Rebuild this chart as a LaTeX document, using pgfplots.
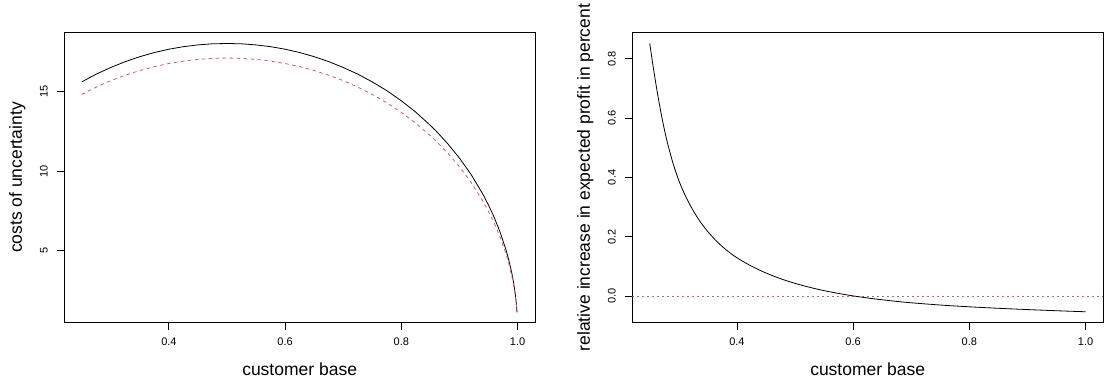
\documentclass[border=0pt]{standalone}
\usepackage{fontspec}
\setmainfont{Liberation Sans}
\usepackage{pgfplots}
\pgfplotsset{compat=1.18}
\definecolor{rred}{HTML}{DF536B}
\begin{document}
\begin{tikzpicture}
\path[use as bounding box] (0,0) rectangle (1110bp,378bp);
\pgfplotsset{rstyle/.style={
  scale only axis, width=470.7bp, height=289.8bp, anchor=south west,
  axis line style={line width=0.8bp, black},
  tick style={line width=0.8bp, black},
  tick align=outside, major tick length=7bp,
  xtick pos=lower, ytick pos=left,
  /pgf/number format/assume math mode=true,
  ticklabel style={font=\fontsize{11bp}{13bp}\selectfont},
  xmin=0.22, xmax=1.03,
  xtick={0.4,0.6,0.8,1.0},
  xticklabel style={/pgf/number format/.cd, fixed, fixed zerofill, precision=1, /tikz/.cd, anchor=north, inner sep=0pt},
  xticklabel shift=8.5bp,
  yticklabel style={rotate=90, anchor=south, inner sep=0pt},
  yticklabel shift=9.3bp,
  label style={font=\fontsize{17.5bp}{21bp}\selectfont},
  xlabel style={at={(axis description cs:0.5,-0.1846)}, anchor=base},
  ylabel style={at={(axis description cs:-0.0899,0.5)}, anchor=base},
  xlabel={customer base},
}}
\begin{axis}[rstyle, at={(64.3bp,55.5bp)},
  ymin=0.464, ymax=18.72, ytick={5,10,15},
  ylabel={costs of uncertainty}]
\addplot[black, line width=0.8bp] coordinates {
(0.25,15.62) (0.275,16.11) (0.30,16.53) (0.325,16.90) (0.35,17.21) (0.375,17.47)
(0.40,17.68) (0.425,17.84) (0.45,17.95) (0.475,18.02) (0.50,18.04) (0.525,18.02)
(0.55,17.95) (0.575,17.84) (0.60,17.68) (0.625,17.47) (0.65,17.21) (0.675,16.90)
(0.70,16.53) (0.725,16.11) (0.75,15.62) (0.775,15.07) (0.80,14.43) (0.825,13.71)
(0.85,12.88) (0.86,12.52) (0.88,11.72) (0.90,10.82) (0.92,9.79) (0.94,8.57)
(0.95,7.86) (0.96,7.07) (0.97,6.15) (0.98,5.05) (0.985,4.39) (0.99,3.59)
(0.993,3.01) (0.996,2.28) (0.998,1.61) (0.999,1.14)};
\addplot[rred, line width=0.8bp, dash pattern=on 3.5bp off 3.5bp] coordinates {
(0.25,14.83) (0.275,15.29) (0.30,15.70) (0.325,16.04) (0.35,16.34) (0.375,16.58)
(0.40,16.78) (0.425,16.93) (0.45,17.04) (0.475,17.10) (0.50,17.125) (0.525,17.10)
(0.55,17.04) (0.575,16.93) (0.60,16.78) (0.625,16.58) (0.65,16.34) (0.675,16.04)
(0.70,15.70) (0.725,15.29) (0.75,14.83) (0.775,14.30) (0.80,13.70) (0.825,13.01)
(0.85,12.23) (0.86,11.88) (0.88,11.13) (0.90,10.28) (0.92,9.29) (0.94,8.13)
(0.95,7.46) (0.96,6.71) (0.97,5.84) (0.98,4.80) (0.985,4.16) (0.99,3.41)
(0.993,2.86) (0.996,2.16) (0.998,1.53) (0.999,1.08)};
\end{axis}
\begin{axis}[rstyle, at={(632.3bp,55.5bp)},
  ymin=-0.0881, ymax=0.887, ytick={0,0.2,0.4,0.6,0.8},
  yticklabel style={/pgf/number format/.cd, fixed, fixed zerofill, precision=1},
  ylabel={relative increase in expected profit in percent}]
\addplot[rred, line width=0.8bp, dash pattern=on 2bp off 3bp] coordinates {(0.22,0) (1.03,0)};
\addplot[black, line width=0.8bp, smooth] coordinates {
(0.25,0.851) (0.255,0.784) (0.26,0.722) (0.265,0.664) (0.27,0.611) (0.275,0.563)
(0.28,0.52) (0.29,0.448) (0.30,0.39) (0.31,0.344) (0.32,0.305) (0.33,0.2715)
(0.34,0.2425) (0.35,0.2175) (0.36,0.1955) (0.37,0.176) (0.38,0.1588) (0.39,0.1435)
(0.40,0.1298) (0.42,0.1068) (0.44,0.0872) (0.46,0.0704) (0.48,0.056) (0.50,0.0436)
(0.525,0.0304) (0.55,0.0191) (0.575,0.0096) (0.60,0.0014) (0.625,-0.0056) (0.65,-0.0117)
(0.675,-0.0171) (0.70,-0.0218) (0.75,-0.0293) (0.80,-0.0353) (0.85,-0.0403)
(0.90,-0.0446) (0.95,-0.0485) (1.0,-0.052)};
\end{axis}
\end{tikzpicture}
\end{document}
